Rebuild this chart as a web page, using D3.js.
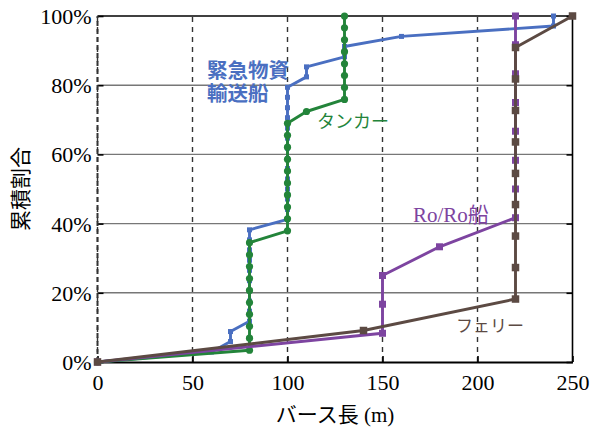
<!DOCTYPE html>
<html><head><meta charset="utf-8">
<script src="https://cdn.jsdelivr.net/npm/d3@7"></script>
<style>body{margin:0;background:#fff}</style>
</head><body>
<svg id="c" width="592" height="432"></svg>
<script>
// ---- data ----
const xTicks = [0, 50, 100, 150, 200, 250];
const yTicks = [0, 20, 40, 60, 80, 100];

const blueLen = [0,60,70,70,80,80,80,80,80,80,80,80,80,80,100,100,100,100,100,100,100,100,100,100,100,100,100,100,110,110,130,130,160,240,240];
const bluePct = [0,2.9,5.9,8.8,11.8,14.7,17.6,20.6,23.5,26.5,29.4,32.4,35.3,38.2,41.2,44.1,47.1,50.0,52.9,55.9,58.8,61.8,64.7,67.6,70.6,73.5,76.5,79.4,82.4,85.3,88.2,91.2,94.1,97.1,100];

const greenLen = [0,80,80,80,80,80,80,80,80,80,80,100,100,100,100,100,100,100,100,100,100,110,130,130,130,130,130,130,130,130];
const greenPct = [0,3.4,6.9,10.3,13.8,17.2,20.7,24.1,27.6,31.0,34.5,37.9,41.4,44.8,48.3,51.7,55.2,58.6,62.1,65.5,69.0,72.4,75.9,79.3,82.8,86.2,89.7,93.1,96.6,100];

const purpleLen = [0,150,150,150,180,220,220,220,220,220,220,220,220];
const purplePct = [0,8.3,16.7,25.0,33.3,41.7,50.0,58.3,66.7,75.0,83.3,91.7,100];

const brownLen = [0,140,220,220,220,220,220,220,220,220,220,250];
const brownPct = [0,9.1,18.2,27.3,36.4,45.5,54.5,63.6,72.7,81.8,90.9,100];

const blueLabel = ["緊急物資", "輸送船"];
const greenLabel = "タンカー";
const purpleLabel = "Ro/Ro船";
const brownLabel = "フェリー";

// ---- layout ----
const W = 592, H = 432;
const m = {l: 97.5, r: 19.5, t: 16, b: 70};
const svg = d3.select("#c");
const x = d3.scaleLinear().domain([0, 250]).range([m.l, W - m.r]);
const y = d3.scaleLinear().domain([0, 100]).range([H - m.b, m.t]);

const serif = "'Liberation Serif','Times New Roman','Noto Sans CJK JP',serif";
const cjk = "'Liberation Sans','Noto Sans CJK JP',sans-serif";

// grid
svg.append("g").selectAll("line").data(yTicks.filter(d => d > 0 && d < 100)).join("line")
  .attr("x1", x(0)).attr("x2", x(250)).attr("y1", d => y(d)).attr("y2", d => y(d))
  .attr("stroke", "#777").attr("stroke-width", 1.4);
svg.append("g").selectAll("line").data([0, 50, 100, 150, 200]).join("line")
  .attr("x1", d => x(d)).attr("x2", d => x(d)).attr("y1", y(0)).attr("y2", y(100))
  .attr("stroke", "#333").attr("stroke-width", 1.4).attr("stroke-dasharray", "5,5");

// frame
svg.append("line").attr("x1", x(0)).attr("x2", x(250)).attr("y1", y(100)).attr("y2", y(100)).attr("stroke", "#000").attr("stroke-width", 1.6);
svg.append("line").attr("x1", x(250)).attr("x2", x(250)).attr("y1", y(0)).attr("y2", y(100)).attr("stroke", "#000").attr("stroke-width", 1.6);

// axes
const yAxisL = d3.axisLeft(y).tickValues(yTicks).tickFormat(d => d + "%").tickSizeInner(-6).tickSizeOuter(0).tickPadding(6);
const gy = svg.append("g").attr("transform", `translate(${x(0)},0)`).call(yAxisL);
gy.select(".domain").remove();
gy.selectAll(".tick line").attr("stroke", "#000").attr("stroke-width", 1.6);
gy.selectAll("text").attr("font-family", serif).attr("font-size", 22).attr("fill", "#000").attr("dy", "0.34em");

const yAxisR = d3.axisRight(y).tickValues(yTicks).tickFormat("").tickSizeInner(-6).tickSizeOuter(0);
const gyr = svg.append("g").attr("transform", `translate(${x(250)},0)`).call(yAxisR);
gyr.select(".domain").remove();
gyr.selectAll(".tick line").attr("stroke", "#000").attr("stroke-width", 1.6);

const xAxis = d3.axisBottom(x).tickValues(xTicks).tickFormat(d3.format("d")).tickSizeInner(-6).tickSizeOuter(0).tickPadding(12);
const gx = svg.append("g").attr("transform", `translate(0,${y(0)})`).call(xAxis);
gx.select(".domain").attr("stroke", "#000").attr("stroke-width", 2);
gx.selectAll(".tick line").attr("stroke", "#000").attr("stroke-width", 1.6);
gx.selectAll("text").attr("font-family", serif).attr("font-size", 22).attr("fill", "#000");

// left dashed axis line
svg.append("line").attr("x1", x(0)).attr("x2", x(0)).attr("y1", y(0)).attr("y2", y(100))
  .attr("stroke", "#333").attr("stroke-width", 2).attr("stroke-dasharray", "5,3");

// axis titles
svg.append("text").attr("x", (x(0) + x(250)) / 2).attr("y", 422).attr("text-anchor", "middle")
  .attr("font-family", serif).attr("font-size", 21).attr("fill", "#000").text("バース長 (m)");
svg.append("text").attr("transform", `translate(28,${(y(0) + y(100)) / 2}) rotate(-90)`).attr("text-anchor", "middle")
  .attr("font-family", cjk).attr("font-size", 21).attr("fill", "#000").text("累積割合");

// series
const series = [
  {len: blueLen, pct: bluePct, color: "#4a6fc1", shape: "sq", size: 5},
  {len: greenLen, pct: greenPct, color: "#23843a", shape: "ci", size: 3.6},
  {len: purpleLen, pct: purplePct, color: "#7d44a0", shape: "sq", size: 7},
  {len: brownLen, pct: brownPct, color: "#5c4a43", shape: "sq", size: 7.5}
];
const line = d3.line().x(d => x(d[0])).y(d => y(d[1]));
series.forEach(s => {
  const pts = s.len.map((v, i) => [v, s.pct[i]]);
  const g = svg.append("g");
  g.append("path").datum(pts).attr("d", line).attr("fill", "none")
    .attr("stroke", s.color).attr("stroke-width", 2.9).attr("stroke-linejoin", "round");
  if (s.shape === "sq") {
    g.selectAll("rect").data(pts).join("rect")
      .attr("x", d => x(d[0]) - s.size / 2).attr("y", d => y(d[1]) - s.size / 2)
      .attr("width", s.size).attr("height", s.size).attr("fill", s.color);
  } else {
    g.selectAll("circle").data(pts).join("circle")
      .attr("cx", d => x(d[0])).attr("cy", d => y(d[1])).attr("r", s.size).attr("fill", s.color);
  }
});

// series labels
blueLabel.forEach((t, i) => {
  svg.append("text").attr("x", 207).attr("y", 78 + i * 23)
    .attr("font-family", cjk).attr("font-size", 20.5).attr("font-weight", "bold").attr("fill", "#4a6fc1").text(t);
});
svg.append("text").attr("x", 413).attr("y", 222).attr("font-family", serif).attr("font-size", 21).attr("fill", "#7d44a0").text(purpleLabel);
svg.append("text").attr("x", 317).attr("y", 128).attr("font-family", cjk).attr("font-size", 18).attr("fill", "#23843a").text(greenLabel);
svg.append("text").attr("x", 456).attr("y", 332).attr("font-family", cjk).attr("font-size", 17).attr("fill", "#5c4a43").text(brownLabel);
</script>
</body></html>
